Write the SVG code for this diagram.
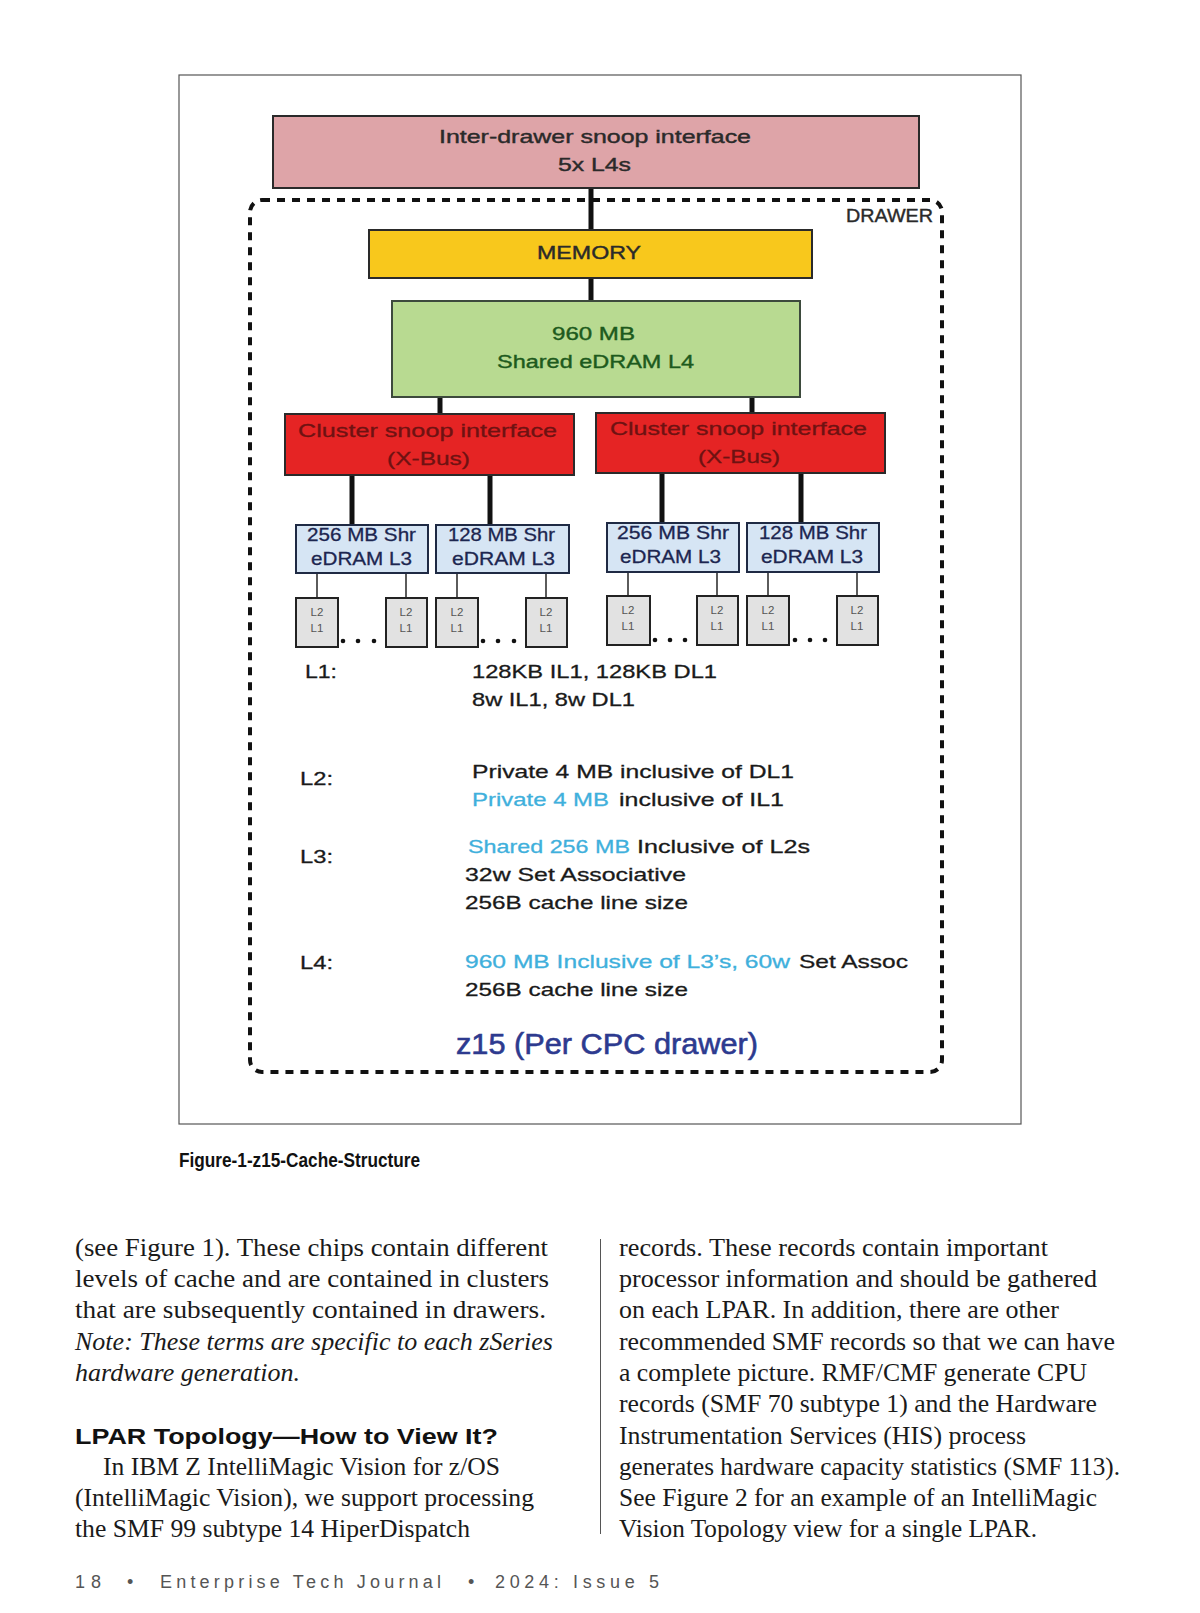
<svg xmlns="http://www.w3.org/2000/svg" width="1200" height="1613" viewBox="0 0 1200 1613">
<style>
.sans{font-family:"Liberation Sans",Arial,sans-serif}
.box{stroke:#2a2a2a;stroke-width:2}
.thick{stroke:#111;stroke-width:5;fill:none}
.thin{stroke:#333;stroke-width:1.6;fill:none}
.lbl{font-size:19px;fill:#2a2a2a;stroke:#2a2a2a;stroke-width:0.4}
.info{font-size:19px;fill:#1a1a1a;stroke:#1a1a1a;stroke-width:0.3}
.cyan{fill:#3fb0dc;stroke:#3fb0dc}
.l3t{font-size:19px;fill:#1c2650;stroke:#1c2650;stroke-width:0.3}
.l2t{font-size:11.5px;fill:#555;text-anchor:middle}
.xb{font-size:19px;fill:#6e1212;stroke:#6e1212;stroke-width:0.3}
.body{font-family:"Liberation Serif","Times New Roman",serif;font-size:25px;fill:#1a1a1a}
.it{font-style:italic}
.dot{fill:#111}
</style>
<rect width="1200" height="1613" fill="#fff"/>
<rect id="figure-frame" x="179" y="75" width="842" height="1049" fill="#fff" stroke="#555" stroke-width="1.2"/>

<g id="drawer">
<rect x="250" y="200" width="692" height="872" rx="12" fill="none" stroke="#111" stroke-width="4" stroke-dasharray="8 7"/>
<text class="sans lbl" x="846" y="222" textLength="87" lengthAdjust="spacingAndGlyphs">DRAWER</text>
</g>

<g id="connectors">
<line class="thick" x1="591" y1="188" x2="591" y2="230"/>
<line class="thick" x1="591" y1="278" x2="591" y2="301"/>
<line class="thick" x1="440" y1="397" x2="440" y2="414"/>
<line class="thick" x1="752" y1="397" x2="752" y2="413"/>
<line class="thick" x1="352" y1="475" x2="352" y2="525"/>
<line class="thick" x1="490" y1="475" x2="490" y2="525"/>
<line class="thick" x1="662" y1="473" x2="662" y2="523"/>
<line class="thick" x1="801" y1="473" x2="801" y2="523"/>
<line class="thin" x1="317" y1="573" x2="317" y2="598"/>
<line class="thin" x1="406" y1="573" x2="406" y2="598"/>
<line class="thin" x1="457" y1="573" x2="457" y2="598"/>
<line class="thin" x1="546" y1="573" x2="546" y2="598"/>
<line class="thin" x1="628" y1="572" x2="628" y2="596"/>
<line class="thin" x1="717" y1="572" x2="717" y2="596"/>
<line class="thin" x1="768" y1="572" x2="768" y2="596"/>
<line class="thin" x1="857" y1="572" x2="857" y2="596"/>
</g>

<g id="inter-drawer">
<rect class="box" x="273" y="116" width="646" height="72" fill="#dea4a8"/>
<text class="sans lbl" x="439" y="143" textLength="312" lengthAdjust="spacingAndGlyphs">Inter-drawer snoop interface</text>
<text class="sans lbl" x="558" y="171" textLength="73" lengthAdjust="spacingAndGlyphs">5x L4s</text>
</g>

<g id="memory">
<rect class="box" x="369" y="230" width="443" height="48" fill="#f8c81c"/>
<text class="sans lbl" x="537" y="259" textLength="104" lengthAdjust="spacingAndGlyphs">MEMORY</text>
</g>

<g id="l4">
<rect x="392" y="301" width="408" height="96" fill="#b8da91" stroke="#3d4a3d" stroke-width="2"/>
<text class="sans lbl" x="552" y="340" textLength="83" lengthAdjust="spacingAndGlyphs" style="fill:#1d5a1d;stroke:#1d5a1d">960 MB</text>
<text class="sans lbl" x="497" y="368" textLength="197" lengthAdjust="spacingAndGlyphs" style="fill:#1d5a1d;stroke:#1d5a1d">Shared eDRAM L4</text>
</g>

<g id="xbus-left">
<rect class="box" x="285" y="414" width="289" height="61" fill="#e52424"/>
<text class="sans xb" x="298" y="437" textLength="259" lengthAdjust="spacingAndGlyphs">Cluster snoop interface</text>
<text class="sans xb" x="387" y="465" textLength="83" lengthAdjust="spacingAndGlyphs">(X-Bus)</text>
</g>
<g id="xbus-right">
<rect class="box" x="596" y="413" width="289" height="60" fill="#e52424"/>
<text class="sans xb" x="610" y="435" textLength="257" lengthAdjust="spacingAndGlyphs">Cluster snoop interface</text>
<text class="sans xb" x="698" y="463" textLength="82" lengthAdjust="spacingAndGlyphs">(X-Bus)</text>
</g>

<g id="l3-1">
<rect x="296" y="525" width="132" height="48" fill="#d6e5f4" stroke="#1f2a44" stroke-width="2"/>
<text class="sans l3t" x="307" y="541" textLength="109" lengthAdjust="spacingAndGlyphs">256 MB Shr</text>
<text class="sans l3t" x="311" y="565" textLength="101" lengthAdjust="spacingAndGlyphs">eDRAM L3</text>
</g>
<g id="l3-2">
<rect x="436" y="525" width="133" height="48" fill="#d6e5f4" stroke="#1f2a44" stroke-width="2"/>
<text class="sans l3t" x="448" y="541" textLength="107" lengthAdjust="spacingAndGlyphs">128 MB Shr</text>
<text class="sans l3t" x="452" y="565" textLength="103" lengthAdjust="spacingAndGlyphs">eDRAM L3</text>
</g>
<g id="l3-3">
<rect x="607" y="523" width="132" height="49" fill="#d6e5f4" stroke="#1f2a44" stroke-width="2"/>
<text class="sans l3t" x="617" y="539" textLength="112" lengthAdjust="spacingAndGlyphs">256 MB Shr</text>
<text class="sans l3t" x="620" y="563" textLength="101" lengthAdjust="spacingAndGlyphs">eDRAM L3</text>
</g>
<g id="l3-4">
<rect x="747" y="523" width="132" height="49" fill="#d6e5f4" stroke="#1f2a44" stroke-width="2"/>
<text class="sans l3t" x="759" y="539" textLength="108" lengthAdjust="spacingAndGlyphs">128 MB Shr</text>
<text class="sans l3t" x="761" y="563" textLength="102" lengthAdjust="spacingAndGlyphs">eDRAM L3</text>
</g>

<g id="l2-1"><rect x="296" y="598" width="42" height="49" fill="#e2e2e2" stroke="#222" stroke-width="2"/><text class="sans l2t" x="317" y="616">L2</text><text class="sans l2t" x="317" y="632">L1</text></g>
<g id="l2-2"><rect x="386" y="598" width="41" height="49" fill="#e2e2e2" stroke="#222" stroke-width="2"/><text class="sans l2t" x="406" y="616">L2</text><text class="sans l2t" x="406" y="632">L1</text></g>
<g id="l2-3"><rect x="436" y="598" width="42" height="49" fill="#e2e2e2" stroke="#222" stroke-width="2"/><text class="sans l2t" x="457" y="616">L2</text><text class="sans l2t" x="457" y="632">L1</text></g>
<g id="l2-4"><rect x="526" y="598" width="41" height="49" fill="#e2e2e2" stroke="#222" stroke-width="2"/><text class="sans l2t" x="546" y="616">L2</text><text class="sans l2t" x="546" y="632">L1</text></g>
<g id="l2-5"><rect x="607" y="596" width="43" height="49" fill="#e2e2e2" stroke="#222" stroke-width="2"/><text class="sans l2t" x="628" y="614">L2</text><text class="sans l2t" x="628" y="630">L1</text></g>
<g id="l2-6"><rect x="697" y="596" width="41" height="49" fill="#e2e2e2" stroke="#222" stroke-width="2"/><text class="sans l2t" x="717" y="614">L2</text><text class="sans l2t" x="717" y="630">L1</text></g>
<g id="l2-7"><rect x="747" y="596" width="42" height="49" fill="#e2e2e2" stroke="#222" stroke-width="2"/><text class="sans l2t" x="768" y="614">L2</text><text class="sans l2t" x="768" y="630">L1</text></g>
<g id="l2-8"><rect x="837" y="596" width="41" height="49" fill="#e2e2e2" stroke="#222" stroke-width="2"/><text class="sans l2t" x="857" y="614">L2</text><text class="sans l2t" x="857" y="630">L1</text></g>

<g id="ellipses">
<circle class="dot" cx="343" cy="641" r="2.3"/><circle class="dot" cx="358" cy="641" r="2.3"/><circle class="dot" cx="374" cy="641" r="2.3"/>
<circle class="dot" cx="483" cy="641" r="2.3"/><circle class="dot" cx="498" cy="641" r="2.3"/><circle class="dot" cx="514" cy="641" r="2.3"/>
<circle class="dot" cx="655" cy="640" r="2.3"/><circle class="dot" cx="670" cy="640" r="2.3"/><circle class="dot" cx="685" cy="640" r="2.3"/>
<circle class="dot" cx="795" cy="640" r="2.3"/><circle class="dot" cx="810" cy="640" r="2.3"/><circle class="dot" cx="825" cy="640" r="2.3"/>
</g>

<g id="cache-info" class="sans">
<text class="info" x="305" y="678" textLength="32" lengthAdjust="spacingAndGlyphs">L1:</text>
<text class="info" x="472" y="678" textLength="245" lengthAdjust="spacingAndGlyphs">128KB IL1, 128KB DL1</text>
<text class="info" x="472" y="706" textLength="163" lengthAdjust="spacingAndGlyphs">8w IL1, 8w DL1</text>
<text class="info" x="300" y="785" textLength="33" lengthAdjust="spacingAndGlyphs">L2:</text>
<text class="info" x="472" y="778" textLength="322" lengthAdjust="spacingAndGlyphs">Private 4 MB inclusive of DL1</text>
<text class="info cyan" x="472" y="806" textLength="137" lengthAdjust="spacingAndGlyphs">Private 4 MB</text>
<text class="info" x="619" y="806" textLength="165" lengthAdjust="spacingAndGlyphs">inclusive of IL1</text>
<text class="info" x="300" y="863" textLength="33" lengthAdjust="spacingAndGlyphs">L3:</text>
<text class="info cyan" x="468" y="853" textLength="162" lengthAdjust="spacingAndGlyphs">Shared 256 MB</text>
<text class="info" x="637" y="853" textLength="173" lengthAdjust="spacingAndGlyphs">Inclusive of L2s</text>
<text class="info" x="465" y="881" textLength="221" lengthAdjust="spacingAndGlyphs">32w Set Associative</text>
<text class="info" x="465" y="909" textLength="223" lengthAdjust="spacingAndGlyphs">256B cache line size</text>
<text class="info" x="300" y="969" textLength="33" lengthAdjust="spacingAndGlyphs">L4:</text>
<text class="info cyan" x="465" y="968" textLength="325" lengthAdjust="spacingAndGlyphs">960 MB Inclusive of L3’s, 60w</text>
<text class="info" x="799" y="968" textLength="109" lengthAdjust="spacingAndGlyphs">Set Assoc</text>
<text class="info" x="465" y="996" textLength="223" lengthAdjust="spacingAndGlyphs">256B cache line size</text>
<text x="456" y="1054" font-size="30" fill="#2d3a8f" stroke="#2d3a8f" stroke-width="0.6" textLength="302" lengthAdjust="spacingAndGlyphs">z15 (Per CPC drawer)</text>
</g>

<g id="caption">
<text class="sans" x="179" y="1167" font-size="20" font-weight="bold" fill="#111" textLength="241" lengthAdjust="spacingAndGlyphs">Figure-1-z15-Cache-Structure</text>
</g>

<g id="article-text">
<text class="body" x="75" y="1256" textLength="473" lengthAdjust="spacingAndGlyphs">(see Figure 1). These chips contain different</text>
<text class="body" x="75" y="1287" textLength="474" lengthAdjust="spacingAndGlyphs">levels of cache and are contained in clusters</text>
<text class="body" x="75" y="1318" textLength="471" lengthAdjust="spacingAndGlyphs">that are subsequently contained in drawers.</text>
<text class="body it" x="75" y="1350" textLength="478" lengthAdjust="spacingAndGlyphs">Note: These terms are specific to each zSeries</text>
<text class="body it" x="75" y="1381" textLength="225" lengthAdjust="spacingAndGlyphs">hardware generation.</text>
<text class="sans" x="75" y="1444" font-size="22" font-weight="bold" fill="#111" textLength="423" lengthAdjust="spacingAndGlyphs">LPAR Topology—How to View It?</text>
<text class="body" x="103" y="1475" textLength="397" lengthAdjust="spacingAndGlyphs">In IBM Z IntelliMagic Vision for z/OS</text>
<text class="body" x="75" y="1506" textLength="459" lengthAdjust="spacingAndGlyphs">(IntelliMagic Vision), we support processing</text>
<text class="body" x="75" y="1537" textLength="395" lengthAdjust="spacingAndGlyphs">the SMF 99 subtype 14 HiperDispatch</text>
<line x1="600.5" y1="1239" x2="600.5" y2="1534" stroke="#555" stroke-width="1"/>
<text class="body" x="619" y="1256" textLength="429" lengthAdjust="spacingAndGlyphs">records. These records contain important</text>
<text class="body" x="619" y="1287" textLength="478" lengthAdjust="spacingAndGlyphs">processor information and should be gathered</text>
<text class="body" x="619" y="1318" textLength="440" lengthAdjust="spacingAndGlyphs">on each LPAR. In addition, there are other</text>
<text class="body" x="619" y="1350" textLength="496" lengthAdjust="spacingAndGlyphs">recommended SMF records so that we can have</text>
<text class="body" x="619" y="1381" textLength="468" lengthAdjust="spacingAndGlyphs">a complete picture. RMF/CMF generate CPU</text>
<text class="body" x="619" y="1412" textLength="478" lengthAdjust="spacingAndGlyphs">records (SMF 70 subtype 1) and the Hardware</text>
<text class="body" x="619" y="1444" textLength="407" lengthAdjust="spacingAndGlyphs">Instrumentation Services (HIS) process</text>
<text class="body" x="619" y="1475" textLength="501" lengthAdjust="spacingAndGlyphs">generates hardware capacity statistics (SMF 113).</text>
<text class="body" x="619" y="1506" textLength="478" lengthAdjust="spacingAndGlyphs">See Figure 2 for an example of an IntelliMagic</text>
<text class="body" x="619" y="1537" textLength="418" lengthAdjust="spacingAndGlyphs">Vision Topology view for a single LPAR.</text>
</g>

<g id="footer" class="sans" font-size="18" fill="#555">
<text x="75" y="1588" textLength="26" lengthAdjust="spacing">18</text>
<text x="127" y="1588">•</text>
<text x="160" y="1588" textLength="281" lengthAdjust="spacing">Enterprise Tech Journal</text>
<text x="468" y="1588">•</text>
<text x="495" y="1588" textLength="164" lengthAdjust="spacing">2024: Issue 5</text>
</g>
</svg>
